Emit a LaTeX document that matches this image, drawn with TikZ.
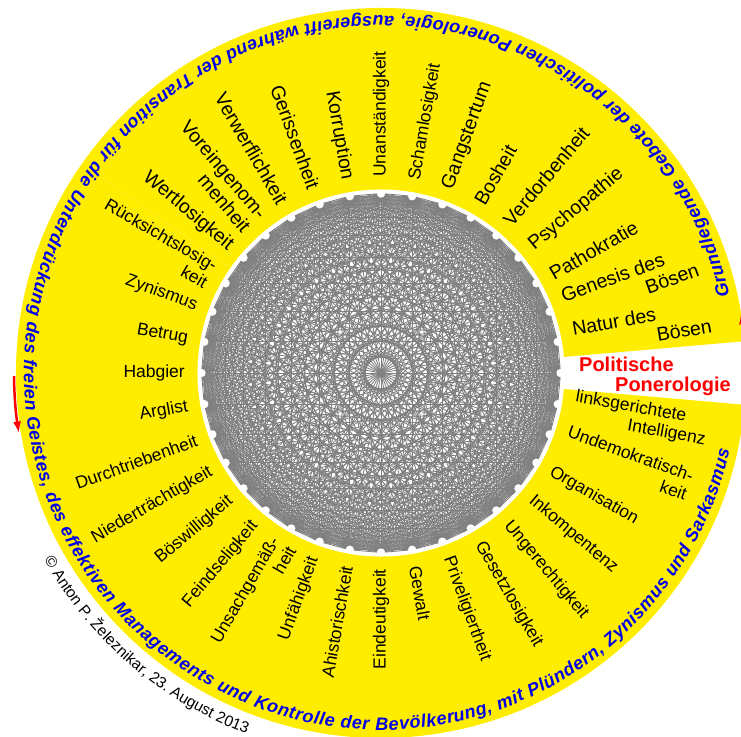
\documentclass[tikz,border=0pt]{standalone}
\usepackage{fontspec}
\setmainfont{Liberation Sans}
\usetikzlibrary{arrows.meta,decorations.text}
\definecolor{yel}{RGB}{255,237,0}
\definecolor{webgrey}{RGB}{128,128,128}
\definecolor{textblue}{RGB}{0,0,235}
\definecolor{arrowred}{RGB}{255,0,0}
\tikzset{
  rlab/.style={anchor=west, inner sep=0pt, text=black},
  llab/.style={anchor=east, inner sep=0pt, text=black},
  fbig/.style={font=\fontsize{19.5}{21}\selectfont},
  fsmall/.style={font=\fontsize{17.5}{19.5}\selectfont},
  web/.style={draw=webgrey, line width=0.85pt},
  vdot/.style={fill=white},
  redarrow/.style={draw=arrowred, line width=2.5pt, -{Latex[length=12pt,width=8pt]}},
}
\begin{document}
\begin{tikzpicture}[x=1pt,y=1pt]
\useasboundingbox (0,0) rectangle (741,736);
\coordinate (C) at (381,363);
% yellow annulus with gap
\fill[yel] (C) -- ([shift={(5:365)}]C) arc[start angle=5,end angle=355,radius=365] -- cycle;
\draw[yel!80!white, line width=0.5pt] ([shift={(145:184)}]C) -- ([shift={(145:340)}]C);
\fill[white] (C) circle[radius=183.5];
% vertices
\foreach \i in {0,...,35}{\coordinate (v\i) at ([shift={(\i*10:179.5)}]C);}
% complete graph web
\foreach \i in {1,...,35}{
  \pgfmathtruncatemacro\jm{\i-1}
  \foreach \j in {0,...,\jm}{\draw[web] (v\i) -- (v\j);}
}
\foreach \i in {0,...,35}{\fill[vdot] (v\i) circle[radius=4.2];}
% right half labels
\node[rlab,fbig,rotate=10,align=left] (n10) at ([shift={(10:196)}]C) {Natur des\\\hspace*{82pt}Bösen};
\node[rlab,fbig,rotate=20,align=left] (n20) at ([shift={(20:196)}]C) {Genesis des\\\hspace*{82pt}Bösen};
\node[rlab,fbig,rotate=30] (n30) at ([shift={(30:196)}]C) {Pathokratie};
\node[rlab,fbig,rotate=40] (n40) at ([shift={(40:196)}]C) {Psychopathie};
\node[rlab,fbig,rotate=50] (n50) at ([shift={(50:196)}]C) {Verdorbenheit};
\node[rlab,fbig,rotate=60] (n60) at ([shift={(60:196)}]C) {Bosheit};
\node[rlab,fbig,rotate=70] (n70) at ([shift={(70:196)}]C) {Gangstertum};
\node[rlab,fsmall,rotate=80] (n80) at ([shift={(80:196)}]C) {Schamlosigkeit};
\node[rlab,fsmall,rotate=90] (n90) at ([shift={(90:196)}]C) {Unanständigkeit};
\node[rlab,fsmall,rotate=280] (n280) at ([shift={(280:196)}]C) {Gewalt};
\node[rlab,fsmall,rotate=290] (n290) at ([shift={(290:196)}]C) {Priveligiertheit};
\node[rlab,fsmall,rotate=300] (n300) at ([shift={(300:196)}]C) {Gesetzlosigkeit};
\node[rlab,fsmall,rotate=310] (n310) at ([shift={(310:196)}]C) {Ungerechtigkeit};
\node[rlab,fsmall,rotate=320] (n320) at ([shift={(320:196)}]C) {Inkompentenz};
\node[rlab,fsmall,rotate=330] (n330) at ([shift={(330:196)}]C) {Organisation};
\node[rlab,fsmall,rotate=340,align=right] (n340) at ([shift={(340:196)}]C) {Undemokratisch-\\keit};
\node[rlab,fsmall,rotate=350,align=left] (n350) at ([shift={(350:196)}]C) {linksgerichtete\\\hspace*{56pt}Intelligenz};
% left half labels
\node[llab,fbig,rotate=-80] (n100) at ([shift={(100:196)}]C) {Korruption};
\node[llab,fbig,rotate=-70] (n110) at ([shift={(110:196)}]C) {Gerissenheit};
\node[llab,fbig,rotate=-60] (n120) at ([shift={(120:196)}]C) {Verwerflichkeit};
\node[llab,fbig,rotate=-50,align=right] (n130) at ([shift={(130:196)}]C) {Voreingenom-\\menheit};
\node[llab,fbig,rotate=-40] (n140) at ([shift={(140:196)}]C) {Wertlosigkeit};
\node[llab,fsmall,rotate=-30,align=right] (n150) at ([shift={(150:196)}]C) {Rücksichtslosig-\\keit};
\node[llab,fsmall,rotate=-20] (n160) at ([shift={(160:196)}]C) {Zynismus};
\node[llab,fsmall,rotate=-10] (n170) at ([shift={(170:196)}]C) {Betrug};
\node[llab,fsmall,rotate=0] (n180) at ([shift={(180:196)}]C) {Habgier};
\node[llab,fsmall,rotate=10] (n190) at ([shift={(190:196)}]C) {Arglist};
\node[llab,fsmall,rotate=20] (n200) at ([shift={(200:196)}]C) {Durchtriebenheit};
\node[llab,fsmall,rotate=30] (n210) at ([shift={(210:196)}]C) {Niederträchtigkeit};
\node[llab,fsmall,rotate=40] (n220) at ([shift={(220:196)}]C) {Böswilligkeit};
\node[llab,fsmall,rotate=50] (n230) at ([shift={(230:196)}]C) {Feindseligkeit};
\node[llab,fsmall,rotate=60,align=right] (n240) at ([shift={(240:196)}]C) {Unsachgemäß-\\heit};
\node[llab,fsmall,rotate=70] (n250) at ([shift={(250:196)}]C) {Unfähigkeit};
\node[llab,fsmall,rotate=80] (n260) at ([shift={(260:196)}]C) {Ahistorischkeit};
\node[llab,fsmall,rotate=90] (n270) at ([shift={(270:196)}]C) {Eindeutigkeit};
% title in the gap
\node[rlab,align=left,text=arrowred,font=\fontsize{20}{19.5}\selectfont\bfseries] (title) at ([shift={(-1:198)}]C) {Politische\\\hspace*{36pt}Ponerologie};
% circular blue text
\coordinate (bS) at ([shift={(12.5:357)}]C);
\path[decorate, decoration={text along path, text align=fit to path, text color=textblue,
  text={|\fontsize{18}{20}\selectfont\bfseries\itshape|Grundlegende Gebote der politischen Ponerologie, ausgereift während der Transition für die Unterdrückung des freien Geistes, des effektiven Managements und Kontrolle der Bevölkerung, mit Plündern, Zynismus und Sarkasmus}}]
  (bS) arc[start angle=12.5, end angle=347.5, radius=357];
% copyright
\coordinate (cS) at ([shift={(209:385)}]C);
\path[decorate, decoration={text along path, text color=black,
  text={|\fontsize{15.5}{17}\selectfont|© Anton P. Železnikar, 23. August 2013}}]
  (cS) arc[start angle=209, end angle=260, radius=385];
% red arrows
\coordinate (aL) at ([shift={(180.5:367)}]C);
\draw[redarrow] (aL) arc[start angle=180.5, end angle=189.5, radius=367];
\coordinate (aR) at ([shift={(0:365)}]C);
\draw[redarrow] (aR) arc[start angle=0, end angle=9.6, radius=365];
\end{tikzpicture}
\end{document}
